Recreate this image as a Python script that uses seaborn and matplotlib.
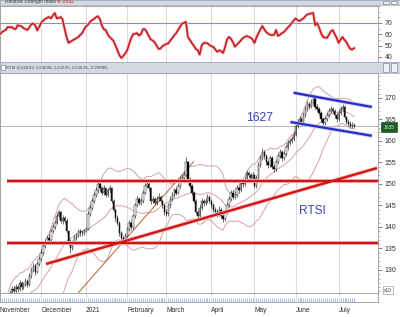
import numpy as np
import pandas as pd
import matplotlib
matplotlib.use('Agg')
import matplotlib.pyplot as plt
import matplotlib.transforms as mtransforms
from matplotlib.patches import Rectangle
from matplotlib.ticker import MultipleLocator
import seaborn as sns

# daily RTSI candles (axis units, x10), Nov 2020 - Jul 2021
first_open = 117.5
closes = [
    # Nov
    118.0, 119.5, 120.5, 122.0, 123.0, 124.5, 125.5, 125.0, 126.0, 125.5, 127.0, 126.0, 126.5, 127.5, 126.5,
    128.5, 130.0, 131.0, 129.5, 131.5, 132.5,
    # Dec
    134.0, 135.5, 136.5, 137.5, 137.0, 139.0, 140.0, 141.0, 142.5, 143.5, 141.5, 142.0, 141.5, 139.0, 136.5,
    135.0, 136.5, 137.5, 138.0, 139.0, 138.5, 138.5, 139.0,
    # Jan
    139.5, 143.0, 144.5, 146.0, 147.5, 148.5, 150.0, 149.0, 148.0, 149.0, 147.5, 148.5, 149.0, 146.0, 144.0,
    142.0, 141.0, 138.5, 137.5, 137.0, 138.0,
    # Feb
    139.5, 141.0, 140.0, 142.5, 145.0, 146.5, 145.5, 146.0, 148.0, 149.5, 150.0, 149.0, 146.0, 146.5, 145.5,
    146.5, 147.0, 146.0, 145.0, 143.5,
    # Mar
    143.0, 145.0, 146.5, 147.5, 148.5, 148.0, 149.5, 151.0, 151.5, 152.0, 155.0, 151.0, 149.5, 148.0, 146.0,
    143.5, 142.5, 144.5, 146.0, 145.5, 146.0, 147.0, 146.0,
    # Apr
    145.0, 144.0, 143.5, 143.0, 144.0, 142.5, 141.8, 143.5, 145.0, 146.5, 148.0, 147.0, 147.5, 149.0, 148.5,
    150.5, 150.0, 151.0, 152.5, 152.0, 151.5, 152.0,
    # May
    149.5, 151.5, 154.5, 156.0, 157.5, 156.5, 155.0, 154.5, 156.0, 154.0, 153.5, 155.0, 156.5, 157.5, 156.0,
    157.0, 158.5, 159.5, 160.0, 160.5, 161.5,
    # Jun
    163.5, 164.5, 165.0, 164.5, 166.0, 167.5, 168.5, 168.0, 169.0, 170.0, 168.0, 167.5, 166.5, 165.0, 164.2,
    165.0, 166.0, 167.0, 167.5, 167.0, 166.0, 165.0,
    # Jul
    166.5, 167.5, 168.0, 165.5, 164.5, 164.0, 163.5, 163.8, 163.5,
]
highs = [
    118.8, 120.0, 121.2, 122.6, 123.8, 125.2, 126.3, 126.2, 126.8, 126.5, 127.6, 127.4, 127.3, 128.2, 128.0,
    129.2, 130.8, 131.7, 131.4, 132.0, 133.2,
    134.8, 136.2, 137.3, 138.2, 138.3, 139.6, 140.8, 141.7, 143.2, 144.0, 143.8, 142.9, 142.6, 142.0, 139.4,
    137.2, 137.0, 138.1, 138.7, 139.6, 139.5, 139.2, 139.6,
    140.0, 143.6, 145.2, 146.7, 148.2, 149.3, 150.6, 150.7, 149.6, 149.7, 149.4, 149.1, 149.8, 149.3, 146.4,
    144.5, 142.7, 141.5, 139.0, 138.2, 138.7,
    140.1, 141.6, 141.5, 143.0, 145.6, 147.2, 147.0, 146.8, 148.6, 150.2, 150.8, 150.5, 149.4, 147.3, 147.0,
    147.1, 147.8, 147.5, 146.6, 145.4,
    144.2, 145.6, 147.1, 148.2, 149.1, 149.2, 150.1, 151.6, 152.2, 152.8, 156.2, 155.4, 151.6, 150.0, 148.4,
    146.5, 144.0, 145.0, 146.7, 146.6, 146.8, 147.7, 147.5,
    146.4, 145.5, 144.7, 144.2, 144.8, 144.4, 143.0, 144.1, 145.7, 147.2, 148.6, 148.5, 148.3, 149.7, 149.6,
    151.1, 151.0, 151.7, 153.2, 153.1, 152.6, 152.7,
    152.4, 152.1, 155.2, 156.7, 158.3, 158.0, 157.0, 155.6, 156.7, 156.4, 154.6, 155.7, 157.1, 158.2, 158.0,
    157.7, 159.1, 160.2, 160.8, 161.2, 162.2,
    164.2, 165.2, 165.8, 165.6, 166.7, 168.2, 169.2, 169.1, 169.8, 170.6, 170.3, 168.6, 168.0, 167.0, 165.5,
    165.7, 166.7, 167.7, 168.2, 168.0, 167.5, 166.4,
    167.1, 168.1, 168.7, 168.4, 165.9, 165.0, 164.6, 164.3, 164.2,
]
lows = [
    117.0, 117.8, 119.2, 120.2, 121.6, 122.6, 124.0, 124.4, 124.6, 124.8, 125.2, 125.4, 125.6, 126.2, 126.0,
    126.2, 128.2, 129.6, 128.8, 129.2, 131.0,
    132.2, 133.6, 135.0, 136.0, 136.4, 136.8, 138.6, 139.5, 140.7, 142.0, 141.0, 140.8, 140.9, 138.5, 135.8,
    134.0, 134.6, 136.0, 137.0, 137.6, 138.0, 137.9, 138.1,
    138.8, 139.2, 142.6, 144.0, 145.6, 147.0, 148.0, 148.3, 147.4, 147.5, 147.0, 147.0, 148.0, 145.5, 143.4,
    141.4, 140.5, 138.0, 136.9, 136.3, 136.6,
    137.6, 139.0, 139.4, 139.6, 142.1, 144.6, 145.0, 145.0, 145.6, 147.6, 149.0, 148.4, 145.4, 145.5, 145.0,
    145.1, 146.0, 145.5, 144.5, 142.8,
    142.5, 142.6, 144.5, 146.0, 147.0, 147.4, 147.6, 149.1, 150.5, 151.0, 151.6, 150.5, 149.0, 147.4, 145.5,
    143.0, 141.9, 142.2, 144.0, 144.9, 145.0, 145.6, 145.5,
    144.4, 143.4, 142.9, 142.4, 142.6, 142.0, 141.2, 141.5, 143.1, 144.6, 146.0, 146.4, 146.5, 147.0, 147.9,
    148.1, 149.4, 149.6, 150.6, 151.4, 150.9, 151.0,
    149.0, 149.1, 151.1, 154.0, 155.6, 155.9, 154.4, 153.8, 154.0, 153.4, 152.8, 153.1, 154.6, 156.0, 155.4,
    155.6, 156.6, 158.0, 159.0, 159.5, 160.0,
    161.1, 163.0, 164.0, 163.8, 164.1, 165.6, 167.0, 167.4, 167.6, 168.5, 167.5, 166.9, 166.0, 164.4, 163.6,
    163.8, 164.6, 165.5, 166.6, 166.4, 165.4, 164.5,
    164.6, 166.0, 167.0, 165.0, 164.0, 163.4, 163.0, 163.1, 162.9,
]
rsi = [
    60, 62, 63, 64, 66.5, 66, 66.5, 65, 64.5, 68, 67.5, 67, 65.5, 64.5, 63.8, 66, 69, 69.5, 68, 63.5, 66.5,
    70, 72, 73.5, 74.5, 75.3, 74, 76.5, 78.8, 74, 74.5, 75.3, 73, 65, 57.6, 52.3, 53.5, 54.5, 55.5, 56.5,
    57.6, 59.5, 61, 64.5,
    67, 68.5, 71, 72.5, 73.5, 75, 76, 73.5, 68, 64.5, 63.8, 60, 57.6, 56, 54, 50, 46, 41.5, 39, 41, 43,
    46, 51.5, 56.5, 60, 60.5, 61, 59, 60, 64.5, 64.5, 62, 58.5, 55.5, 54.5, 53, 50, 47, 47.5, 49.5, 50.5,
    51.5, 52, 54.5, 56.5, 59, 61, 63.8, 66.5, 69.5, 70, 71, 57.6, 55, 52.3, 50, 47, 46, 42, 50, 52.3, 52.3,
    52, 50.5,
    49.5, 48.8, 46.5, 44.5, 45.8, 45, 43.5, 49, 55.5, 57.6, 56, 53, 49, 51, 52.5, 54.5, 56.5, 57.5, 58.5,
    57.8, 57, 55.5,
    52.3, 57, 61, 64, 67.3, 64.5, 62, 60.5, 59.5, 59.4, 59.4, 63.8, 58.5, 59.5, 61, 62, 63.8, 66, 67.5, 70, 72,
    74, 72.5, 71.8, 73, 74, 76, 77.5, 78, 78.5, 78.8, 68, 70, 66, 61, 57.6, 57.2, 56.7, 59.5, 62.5, 63.8, 60,
    56.7,
    52.3, 55.5, 57.6, 55, 53, 49.5, 47, 46.5, 47.9,
]
month_labels = ['November', 'December', '2021', 'February', 'March', 'April', 'May', 'June', 'July']

# hand drawn analysis lines (x = trading day index)
levels = [150.7, 136.2]
trend_x, trend_y = [23.5, 192.6], [131.4, 153.7]
steep_x, steep_y = [40, 99], [124.7, 155.2]
chan_top_x, chan_top_y = [150, 190], [171.2, 167.9]
chan_bot_x, chan_bot_y = [148.4, 190], [164.4, 161.2]
last_price = 163.5

df = pd.DataFrame({'close': closes, 'high': highs, 'low': lows, 'rsi': rsi})
df['open'] = [first_open] + closes[:-1]
df['date'] = pd.bdate_range('2020-11-02', periods=len(df))
df['pos'] = np.arange(len(df))
mid = df['close'].rolling(20, min_periods=5).mean()
sd = df['close'].rolling(20, min_periods=5).std()
df['bb_mid'], df['bb_up'], df['bb_lo'] = mid, mid + 2 * sd, mid - 2 * sd
month_pos = df.groupby([df.date.dt.year, df.date.dt.month])['pos'].min().values

sns.set_style('white')
plt.rcParams['font.family'] = ['Liberation Sans', 'DejaVu Sans']

W, H = 400, 317
fig = plt.figure(figsize=(W / 100, H / 100), dpi=100)


def px_axes(x0, y0, x1, y1):
    return fig.add_axes([x0 / W, 1 - y1 / H, (x1 - x0) / W, (y1 - y0) / H])


xlim = (3.4, 193.1)
grid_c = '#dcdcdc'
spine_c = '#9a9a9a'


def style_panel(ax):
    ax.set_xlim(*xlim)
    ax.set_xticks(month_pos)
    ax.grid(axis='x', color=grid_c, lw=0.8)
    ax.grid(axis='y', visible=False)
    ax.tick_params(axis='x', length=0, labelbottom=False)
    ax.yaxis.tick_right()
    ax.tick_params(axis='y', which='major', right=True, left=False, length=3, width=0.5,
                   color='#555555', labelsize=5, labelcolor='#303030', pad=2)
    ax.tick_params(axis='y', which='minor', right=True, left=False, length=1.5, width=0.4, color='#777777')
    for s in ax.spines.values():
        s.set_color(spine_c)
        s.set_linewidth(0.6)
    ax.set_xlabel('')
    ax.set_ylabel('')


def halo_line(ax, x, y, color, glow, lw, z=6):
    ax.plot(x, y, color=glow, lw=lw * 1.7, solid_capstyle='butt', zorder=z)
    ax.plot(x, y, color=color, lw=lw, solid_capstyle='butt', zorder=z + 0.1)


# RSI panel
ax_rsi = px_axes(0, 6, 378, 62)
ax_rsi.axhline(70, color='#8c8cc6', lw=0.8, zorder=2)
sns.lineplot(x=df['pos'], y=df['rsi'], ax=ax_rsi, color='#f3bcbc', lw=2.3, zorder=3)
sns.lineplot(x=df['pos'], y=df['rsi'], ax=ax_rsi, color='#c4161c', lw=1.1, zorder=4)
ax_rsi.set_ylim(35.5, 85)
ax_rsi.set_yticks([40, 50, 60, 70])
ax_rsi.yaxis.set_minor_locator(MultipleLocator(5))
style_panel(ax_rsi)

# price panel
ax_px = px_axes(0, 73, 378, 293)
band_c = '#d4a2a2'
for col in ['bb_up', 'bb_mid', 'bb_lo']:
    sns.lineplot(x=df['pos'], y=df[col], ax=ax_px, color=band_c, lw=0.7, zorder=2)
ax_px.plot(steep_x, steep_y, color='#c2704e', lw=0.8, zorder=2.5)
ax_px.axhline(last_price, color='#b4b4b4', lw=0.7, zorder=1.5)

up = df['close'] >= df['open']
body_lo = np.minimum(df['open'], df['close'])
body_h = np.maximum((df['close'] - df['open']).abs(), 0.15)
ax_px.vlines(df['pos'], df['low'], df['high'], color='#202020', lw=0.45, zorder=3)
ax_px.bar(df['pos'], body_h, bottom=body_lo, width=0.72, color=np.where(up, 'white', 'black'),
          edgecolor='#202020', lw=0.35, zorder=4)

for lv in levels:
    halo_line(ax_px, xlim, [lv, lv], '#d31414', '#f6c2c2', 1.7)
halo_line(ax_px, trend_x, trend_y, '#d31414', '#f6c2c2', 1.7)
halo_line(ax_px, chan_top_x, chan_top_y, '#2b2bc6', '#c4c8f2', 1.6)
halo_line(ax_px, chan_bot_x, chan_bot_y, '#2b2bc6', '#c4c8f2', 1.6)

ax_px.text(132.6, 165.35, '1627', ha='center', va='center', fontsize=8.7, color='#3b47b5', zorder=8)
ax_px.text(159.7, 143.6, 'RTSI', ha='center', va='center', fontsize=8.6, color='#3b47b5', zorder=8)

ax_px.set_ylim(124.65, 175.8)
ax_px.set_yticks(np.arange(130, 171, 5))
ax_px.yaxis.set_minor_locator(MultipleLocator(1))
style_panel(ax_px)

tr = mtransforms.blended_transform_factory(ax_px.transAxes, ax_px.transData)
ax_px.text(1.015, last_price - 0.3, '1635', transform=tr, fontsize=3.6, color='#c8f0c0', va='center',
           ha='left', bbox=dict(boxstyle='square,pad=0.5', fc='#1d5c26', ec='#0e3a14', lw=0.4),
           clip_on=False, zorder=9)
fig.text(384 / W, 1 - 290 / H, 'x10', fontsize=3.5, color='#404040', va='center',
         bbox=dict(boxstyle='square,pad=0.3', fc='white', ec='#888888', lw=0.4))

# date strip
ax_vol = px_axes(0, 293, 378, 302)
ax_vol.set_xlim(*xlim)
ax_vol.set_ylim(0, 1)
ax_vol.set_yticks([])
ax_vol.set_xticks(month_pos)
ax_vol.set_xticklabels(month_labels, ha='left')
ax_vol.grid(axis='x', color=grid_c, lw=0.8)
ax_vol.set_xticks(df['pos'], minor=True)
ax_vol.tick_params(axis='x', which='major', length=0, pad=3.5, labelsize=4.8, labelcolor='#303030')
ax_vol.tick_params(axis='x', which='minor', bottom=True, direction='in', length=3, width=0.5, color='#8fa6d8')
for s in ax_vol.spines.values():
    s.set_color(spine_c)
    s.set_linewidth(0.6)

# header bars
hdr_c = '#d3d9e1'
for (y0, y1) in [(0, 5), (62, 73)]:
    axh = px_axes(0, y0, 400, y1)
    axh.set_xlim(0, 400)
    axh.set_ylim(y1, y0)
    axh.set_facecolor(hdr_c)
    axh.set_xticks([])
    axh.set_yticks([])
    for s in axh.spines.values():
        s.set_color('#9aa4b0')
        s.set_linewidth(0.5)
    for bx in [383, 391]:
        axh.add_patch(Rectangle((bx, y0 + 1), 6, y1 - y0 - 2 if y1 - y0 > 6 else 3, fc='#eef0f3',
                                ec='#707880', lw=0.4))
    if y0 == 62:
        axh.add_patch(Rectangle((0.5, 64.5), 4, 5, fc='white', ec='#707880', lw=0.4))
        axh.text(6, 67.5, 'RTSI (1,634.62, 1,636.88, 1,622.65, 1,635.34, -0.29995)', fontsize=3,
                 color='#404040', va='center')
    else:
        axh.text(5, 1.2, 'Relative Strength Index', fontsize=3.5, color='#404040', va='center')
        axh.text(57, 1.2, '47.8592', fontsize=3.5, color='#d01818', va='center')

fig.savefig('out.png', dpi=100)
